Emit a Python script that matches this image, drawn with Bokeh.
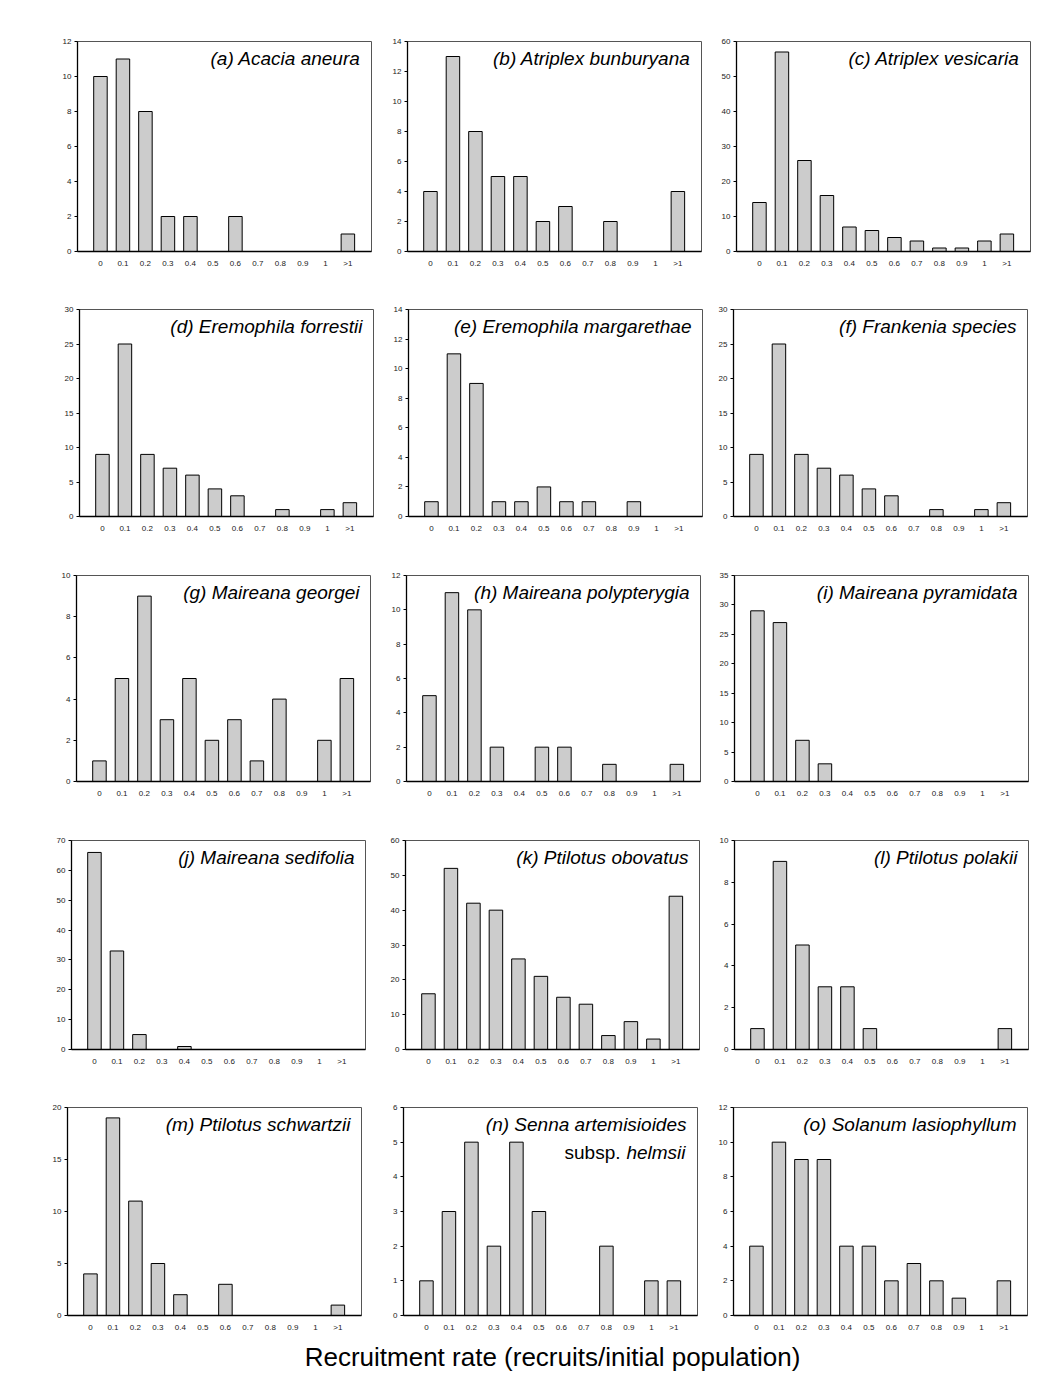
from bokeh.plotting import figure
from bokeh.models import ColumnDataSource, FixedTicker, Label
from bokeh.layouts import row, column
from bokeh.embed import file_html
from bokeh.resources import INLINE

# ---- data ----
categories = ["0", "0.1", "0.2", "0.3", "0.4", "0.5", "0.6", "0.7", "0.8", "0.9", "1", ">1"]

acacia_aneura = [10, 11, 8, 2, 2, 0, 2, 0, 0, 0, 0, 1]
atriplex_bunburyana = [4, 13, 8, 5, 5, 2, 3, 0, 2, 0, 0, 4]
atriplex_vesicaria = [14, 57, 26, 16, 7, 6, 4, 3, 1, 1, 3, 5]
eremophila_forrestii = [9, 25, 9, 7, 6, 4, 3, 0, 1, 0, 1, 2]
eremophila_margarethae = [1, 11, 9, 1, 1, 2, 1, 1, 0, 1, 0, 0]
frankenia_species = [9, 25, 9, 7, 6, 4, 3, 0, 1, 0, 1, 2]
maireana_georgei = [1, 5, 9, 3, 5, 2, 3, 1, 4, 0, 2, 5]
maireana_polypterygia = [5, 11, 10, 2, 0, 2, 2, 0, 1, 0, 0, 1]
maireana_pyramidata = [29, 27, 7, 3, 0, 0, 0, 0, 0, 0, 0, 0]
maireana_sedifolia = [66, 33, 5, 0, 1, 0, 0, 0, 0, 0, 0, 0]
ptilotus_obovatus = [16, 52, 42, 40, 26, 21, 15, 13, 4, 8, 3, 44]
ptilotus_polakii = [1, 9, 5, 3, 3, 1, 0, 0, 0, 0, 0, 1]
ptilotus_schwartzii = [4, 19, 11, 5, 2, 0, 3, 0, 0, 0, 0, 1]
senna_artemisioides = [1, 3, 5, 2, 5, 3, 0, 0, 2, 0, 1, 1]
solanum_lasiophyllum = [4, 10, 9, 9, 4, 4, 2, 3, 2, 1, 0, 2]

titles = ["(a) Acacia aneura", "(b) Atriplex bunburyana", "(c) Atriplex vesicaria",
          "(d) Eremophila forrestii", "(e) Eremophila margarethae", "(f) Frankenia species",
          "(g) Maireana georgei", "(h) Maireana polypterygia", "(i) Maireana pyramidata",
          "(j) Maireana sedifolia", "(k) Ptilotus obovatus", "(l) Ptilotus polakii",
          "(m) Ptilotus schwartzii", "(n) Senna artemisioides", "(o) Solanum lasiophyllum"]
series = [acacia_aneura, atriplex_bunburyana, atriplex_vesicaria,
          eremophila_forrestii, eremophila_margarethae, frankenia_species,
          maireana_georgei, maireana_polypterygia, maireana_pyramidata,
          maireana_sedifolia, ptilotus_obovatus, ptilotus_polakii,
          ptilotus_schwartzii, senna_artemisioides, solanum_lasiophyllum]
y_max = [12, 14, 60, 30, 14, 30, 10, 12, 35, 70, 60, 10, 20, 6, 12]
y_step = [2, 2, 10, 5, 2, 5, 2, 2, 5, 10, 10, 2, 5, 1, 2]
x_label = "Recruitment rate (recruits/initial population)"

# ---- layout (pixels) ----
FONT = "Liberation Sans"
X0, X1 = -1.02, 12.05
FRAME_W, FRAME_H = 294, 210
col_x = [0, 380, 712]
col_w = [380, 332, 328]
row_y = [0, 274, 540, 806, 1074]
row_h = [274, 266, 266, 268, 264]
box_left = [78, 408, 737, 80, 409, 734, 77, 407, 735, 72, 406, 735, 68, 404, 734]
box_top = [41, 41, 41, 306, 306, 309, 571, 574, 575, 839, 840, 840, 1107, 1106, 1105]


def make_panel(idx):
    r, c = divmod(idx, 3)
    ymax, step = y_max[idx], y_step[idx]
    bl = box_left[idx] - col_x[c] - 1
    br = col_w[c] - FRAME_W - bl
    bt = box_top[idx] - row_y[r]
    bb = row_h[r] - FRAME_H - bt
    p = figure(width=col_w[c], height=row_h[r], x_range=(X0, X1), y_range=(0, ymax),
               output_backend="svg", toolbar_location=None,
               min_border_left=bl, min_border_right=br, min_border_top=bt, min_border_bottom=bb)
    src = ColumnDataSource(dict(x=list(range(len(categories))), top=series[idx]))
    p.vbar(x="x", top="top", width=0.6, source=src, fill_color="#cccccc",
           line_color="black", line_width=1)
    p.xgrid.visible = False
    p.ygrid.visible = False
    p.outline_line_color = "#555555"
    p.outline_line_width = 1
    p.background_fill_color = "white"
    p.border_fill_color = "white"

    xa = p.xaxis[0]
    xa.ticker = FixedTicker(ticks=list(range(len(categories))))
    xa.major_label_overrides = {i: cat for i, cat in enumerate(categories)}
    xa.major_tick_line_color = None
    xa.minor_tick_line_color = None
    xa.axis_line_color = "black"
    xa.axis_line_width = 1.3
    xa.major_label_text_font = FONT
    xa.major_label_text_font_size = "8px"
    xa.major_label_text_color = "#222222"
    xa.major_label_standoff = 1

    ya = p.yaxis[0]
    ya.ticker = FixedTicker(ticks=list(range(0, ymax + 1, step)))
    ya.major_tick_out = 3
    ya.major_tick_in = 0
    ya.minor_tick_line_color = None
    ya.axis_line_color = "black"
    ya.axis_line_width = 1.3
    ya.major_tick_line_color = "black"
    ya.major_label_text_font = FONT
    ya.major_label_text_font_size = "8px"
    ya.major_label_text_color = "#222222"
    ya.major_label_standoff = 3

    p.add_layout(Label(x=X1, y=ymax, x_offset=-11, y_offset=-6, text=titles[idx],
                       text_align="right", text_baseline="top", text_font=FONT,
                       text_font_style="italic", text_font_size="19px", text_color="black"))
    return p


panels = [make_panel(i) for i in range(15)]

# second line of panel (n)
pn = panels[13]
pn.add_layout(Label(x=X1, y=y_max[13], x_offset=-12, y_offset=-34, text="helmsii",
                    text_align="right", text_baseline="top", text_font=FONT,
                    text_font_style="italic", text_font_size="19px", text_color="black"))
pn.add_layout(Label(x=X1, y=y_max[13], x_offset=-77, y_offset=-34, text="subsp.",
                    text_align="right", text_baseline="top", text_font=FONT,
                    text_font_style="normal", text_font_size="19px", text_color="black"))

# x-axis label figure
lab = figure(width=1040, height=35, x_range=(0, 1040), y_range=(0, 35),
             output_backend="svg", toolbar_location=None, min_border=0)
lab.axis.visible = False
lab.grid.visible = False
lab.outline_line_color = None
lab.add_layout(Label(x=552, y=35, y_offset=-3, text=x_label, text_align="center",
                     text_baseline="top", text_font=FONT, text_font_size="26px",
                     text_color="black"))

rows = [row(*panels[3 * r:3 * r + 3]) for r in range(5)]
layout = column(*rows, lab)

open("out.html", "w").write(file_html(layout, INLINE))
